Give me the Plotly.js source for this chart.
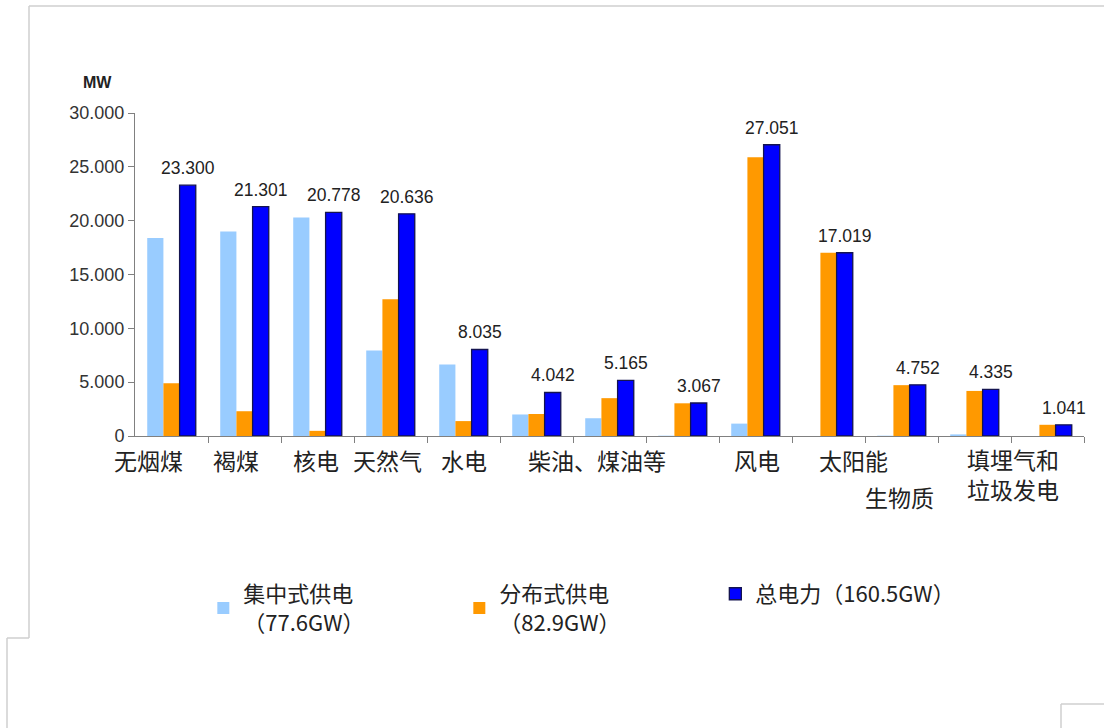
<!DOCTYPE html>
<html>
<head>
<meta charset="utf-8">
<script src="https://cdn.plot.ly/plotly-3.0.1.min.js"></script>
<style>html,body{margin:0;padding:0;background:#fff;}#chart{width:1104px;height:728px;}</style>
</head>
<body>
<div id="chart"></div>
<script>
// ---- data ----
var categoryLabels = ["无烟煤", "褐煤", "核电", "天然气", "水电", "柴油、煤油等", "风电", "太阳能", "生物质", "填埋气和<br>垃圾发电"];
var seriesNames = ["集中式供电<br>（77.6GW）", "分布式供电<br>（82.9GW）", "总电力（160.5GW）"];
var central     = [18400, 19000, 20300, 7936, 6650, 2000, 1650, 30, 1150, 0, 30, 150, 0];
var distributed = [4900, 2301, 478, 12700, 1385, 2042, 3515, 3037, 25901, 17019, 4722, 4185, 1041];
var total       = [23300, 21301, 20778, 20636, 8035, 4042, 5165, 3067, 27051, 17019, 4752, 4335, 1041];
var yTicks = [0, 5000, 10000, 15000, 20000, 25000, 30000];
var unitLabel = "MW";

// ---- layout helpers (positions, not data) ----
var labelX = [-0.315, 0.884, 1.979, 2.959, 4.007, 5.822, 8.027, 9.349, 9.966, 11.53];
var labelY = [-0.074, -0.074, -0.074, -0.074, -0.074, -0.074, -0.074, -0.074, -0.188, -0.118];

var idx = total.map(function (_, i) { return i; });
var boundaries = idx.map(function (i) { return i + 0.5; });

var numFont = "Arial, 'Liberation Sans', sans-serif";
var cjkFont = "'Noto Sans CJK SC', sans-serif";

function deNumber(v) { return String(v).replace(/\B(?=(\d{3})+(?!\d))/g, "."); }

var traces = [
  { type: "bar", name: seriesNames[0], x: idx, y: central,
    marker: { color: "#99CCFF", line: { width: 0 } }, hoverinfo: "y" },
  { type: "bar", name: seriesNames[1], x: idx, y: distributed,
    marker: { color: "#FF9900", line: { width: 0 } }, hoverinfo: "y" },
  { type: "bar", name: seriesNames[2], x: idx, y: total,
    marker: { color: "#0000FF", line: { color: "#141450", width: 1.3 } }, hoverinfo: "y" }
];

var annotations = [];
categoryLabels.forEach(function (t, k) {
  annotations.push({ text: t, x: labelX[k], xref: "x", y: labelY[k], yref: "paper",
    xanchor: "center", yanchor: "middle", showarrow: false, align: "left",
    font: { family: cjkFont, size: 23, color: "#222" } });
});
total.forEach(function (v, i) {
  annotations.push({ text: deNumber(v), x: i, y: v, xref: "x", yref: "y",
    xanchor: "center", yanchor: "bottom", xshift: 16, yshift: 5, showarrow: false,
    font: { family: numFont, size: 17.5, color: "#222" } });
});
annotations.push({ text: "<b>" + unitLabel + "</b>", x: -0.039, xref: "paper", y: 1.094, yref: "paper",
  xanchor: "center", yanchor: "middle", showarrow: false,
  font: { family: numFont, size: 16, color: "#222" } });

// frame lines (screenshot border), paper coordinates
function px(x) { return (x - 135) / 949; }
function py(y) { return (436 - y) / 323; }
var frameColor = "#cfcfcf";
var segs = [
  [29, 6, 1104, 6], [29, 6, 29, 638], [7, 638, 29, 638], [7, 638, 7, 728],
  [1061, 704, 1061, 728], [1061, 704, 1104, 704]
];
var shapes = segs.map(function (s) {
  return { type: "line", xref: "paper", yref: "paper", x0: px(s[0]), y0: py(s[1]), x1: px(s[2]), y1: py(s[3]),
    line: { color: frameColor, width: 1.5 } };
});

var layout = {
  width: 1104, height: 728,
  margin: { l: 135, r: 20, t: 113, b: 292, pad: 0 },
  paper_bgcolor: "#fff", plot_bgcolor: "#fff",
  separators: ",.",
  barmode: "group", bargap: 0.335, bargroupgap: 0,
  showlegend: true,
  legend: { orientation: "h", x: 0.072, xanchor: "left", y: -0.424, yanchor: "top",
    entrywidth: 211, entrywidthmode: "pixels", valign: "middle", traceorder: "normal",
    font: { family: cjkFont, size: 22, color: "#222" } },
  xaxis: { range: [-0.5, 12.5], showline: true, linecolor: "#808080", linewidth: 1,
    tickmode: "array", tickvals: boundaries, ticks: "outside", ticklen: 6, tickcolor: "#808080",
    showticklabels: false, showgrid: false, zeroline: false, fixedrange: true },
  yaxis: { range: [0, 30000], showline: true, linecolor: "#808080", linewidth: 1,
    tickmode: "array", tickvals: yTicks, tickformat: ",d", ticks: "outside", ticklen: 6, tickcolor: "#808080",
    tickfont: { family: numFont, size: 18, color: "#333" },
    showgrid: false, zeroline: false, fixedrange: true },
  annotations: annotations,
  shapes: shapes
};

Plotly.newPlot("chart", traces, layout, { displayModeBar: false, staticPlot: true });
</script>
</body>
</html>
